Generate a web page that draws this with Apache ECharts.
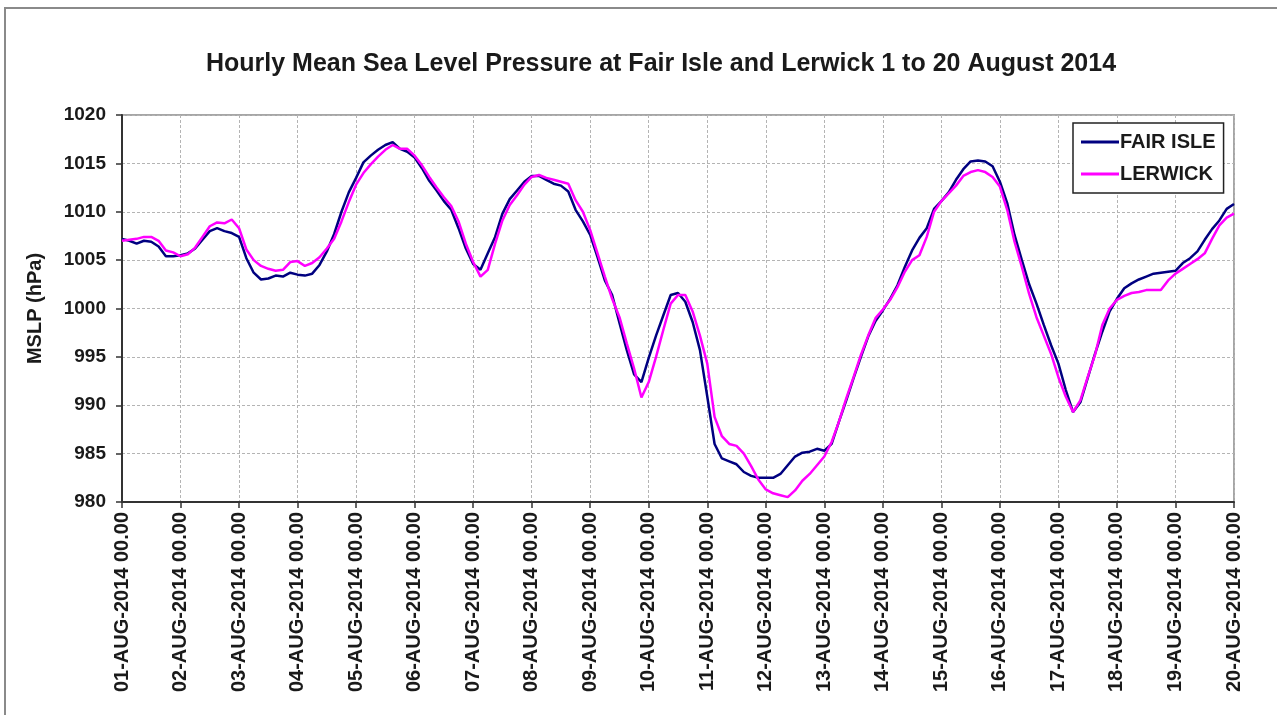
<!DOCTYPE html>
<html>
<head>
<meta charset="utf-8">
<script src="https://cdn.jsdelivr.net/npm/echarts@6/dist/echarts.min.js"></script>
<style>
  html, body { margin: 0; padding: 0; background: #ffffff; }
  #chart { width: 1277px; height: 715px; }
</style>
</head>
<body>
<div id="chart"></div>
<script>
// Tick labels for the x axis (one per day, 00.00)
const dayLabels = [
  '01-AUG-2014 00.00','02-AUG-2014 00.00','03-AUG-2014 00.00','04-AUG-2014 00.00',
  '05-AUG-2014 00.00','06-AUG-2014 00.00','07-AUG-2014 00.00','08-AUG-2014 00.00',
  '09-AUG-2014 00.00','10-AUG-2014 00.00','11-AUG-2014 00.00','12-AUG-2014 00.00',
  '13-AUG-2014 00.00','14-AUG-2014 00.00','15-AUG-2014 00.00','16-AUG-2014 00.00',
  '17-AUG-2014 00.00','18-AUG-2014 00.00','19-AUG-2014 00.00','20-AUG-2014 00.00'
];

// MSLP (hPa) read every 3 hours from 01-AUG-2014 00.00 to 20-AUG-2014 00.00
const fairIsle = [
  1007.2,1007.0,1006.7,1007.0,1006.9,1006.4,1005.4,1005.4,
  1005.5,1005.7,1006.2,1007.1,1008.0,1008.3,1008.0,1007.8,
  1007.4,1005.2,1003.7,1003.0,1003.1,1003.4,1003.3,1003.7,
  1003.5,1003.4,1003.6,1004.5,1005.9,1007.7,1010.0,1012.0,
  1013.5,1015.1,1015.8,1016.4,1016.9,1017.2,1016.5,1016.2,
  1015.6,1014.5,1013.2,1012.2,1011.1,1010.2,1008.3,1006.2,
  1004.6,1004.0,1005.7,1007.4,1009.8,1011.3,1012.2,1013.1,
  1013.7,1013.7,1013.3,1012.9,1012.7,1012.1,1010.2,1009.0,
  1007.6,1005.3,1002.9,1001.4,998.5,995.7,993.2,992.4,
  994.9,997.2,999.3,1001.4,1001.6,1000.7,998.6,995.7,
  990.9,986.0,984.5,984.2,983.9,983.1,982.7,982.5,
  982.5,982.5,982.9,983.8,984.7,985.1,985.2,985.5,
  985.3,986.0,988.3,990.5,992.8,995.0,997.1,998.7,
  999.8,1001.0,1002.4,1004.3,1006.0,1007.3,1008.3,1010.3,
  1011.1,1012.0,1013.3,1014.4,1015.2,1015.3,1015.2,1014.7,
  1013.1,1010.9,1007.6,1005.0,1002.5,1000.5,998.3,996.2,
  994.3,991.6,989.3,990.3,992.8,995.3,997.6,999.7,
  1001.0,1002.1,1002.6,1003.0,1003.3,1003.6,1003.7,1003.8,
  1003.9,1004.7,1005.2,1005.9,1007.1,1008.2,1009.1,1010.3,
  1010.8
];

const lerwick = [
  1007.0,1007.1,1007.2,1007.4,1007.4,1007.0,1006.0,1005.8,
  1005.4,1005.6,1006.3,1007.4,1008.5,1008.9,1008.8,1009.2,
  1008.3,1006.1,1005.0,1004.4,1004.1,1003.9,1004.0,1004.8,
  1004.9,1004.4,1004.7,1005.3,1006.2,1007.2,1009.0,1011.0,
  1012.8,1014.0,1014.9,1015.7,1016.4,1016.9,1016.5,1016.5,
  1015.8,1014.8,1013.6,1012.5,1011.5,1010.6,1009.0,1006.7,
  1004.8,1003.3,1004.0,1006.7,1009.1,1010.7,1011.7,1012.8,
  1013.6,1013.8,1013.5,1013.3,1013.1,1012.9,1011.2,1010.0,
  1008.1,1005.7,1003.3,1001.0,999.1,996.4,993.8,990.8,
  992.4,995.0,997.8,1000.5,1001.4,1001.4,999.7,997.2,
  994.3,988.8,986.8,986.0,985.8,985.0,983.7,982.3,
  981.3,980.9,980.7,980.5,981.2,982.2,982.9,983.8,
  984.7,986.2,988.3,990.7,992.9,995.2,997.2,999.0,
  999.9,1000.9,1002.2,1003.8,1005.0,1005.5,1007.4,1010.0,
  1011.1,1011.9,1012.7,1013.7,1014.1,1014.3,1014.1,1013.6,
  1012.6,1010.2,1006.9,1004.3,1001.5,999.1,997.2,995.3,
  992.9,990.9,989.3,990.5,992.9,995.2,998.3,1000.0,
  1000.9,1001.3,1001.6,1001.7,1001.9,1001.9,1001.9,1002.9,
  1003.6,1004.1,1004.6,1005.1,1005.7,1007.2,1008.6,1009.4,
  1009.8
];

const stepHours = 3;
const hours = fairIsle.map((_, i) => i * stepHours);

const chart = echarts.init(document.getElementById('chart'), null, { renderer: 'canvas' });

const FONT = 'Liberation Sans, Arial, sans-serif';

chart.setOption({
  backgroundColor: '#ffffff',
  animation: false,
  title: {
    text: 'Hourly Mean Sea Level Pressure at Fair Isle and Lerwick 1 to 20 August 2014',
    left: 656,
    textAlign: 'center',
    top: 47,
    textStyle: { fontFamily: FONT, fontSize: 25, fontWeight: 'bold', color: '#1a1a1a' }
  },
  graphic: [
    {
      type: 'rect',
      shape: { x: 5, y: 8, width: 1290, height: 730 },
      style: { fill: null, stroke: '#8a8a8a', lineWidth: 2 },
      silent: true,
      z: 0
    }
  ],
  legend: {
    orient: 'vertical',
    left: 1073,
    top: 123,
    width: 157,
    padding: [9, 8, 9, 8],
    itemGap: 12,
    itemWidth: 38,
    itemHeight: 3,
    icon: 'rect',
    borderColor: '#222',
    borderWidth: 1.5,
    backgroundColor: '#ffffff',
    textStyle: { fontFamily: FONT, fontSize: 20, fontWeight: 'bold', color: '#1a1a1a', padding: [0, 0, 0, -4] },
    data: ['FAIR ISLE', 'LERWICK']
  },
  grid: {
    left: 122,
    top: 115,
    width: 1112,
    height: 387,
    show: true,
    borderColor: '#a6a6a6',
    borderWidth: 2,
    backgroundColor: 'transparent'
  },
  xAxis: {
    type: 'value',
    min: 0,
    max: 456,
    interval: 24,
    axisLine: { show: true, onZero: false, lineStyle: { color: '#333', width: 2 } },
    axisTick: { show: true, length: 6, lineStyle: { color: '#333', width: 1.5 } },
    splitLine: { show: true, lineStyle: { color: '#b4b4b4', width: 1, type: [3, 2] } },
    axisLabel: {
      rotate: 90,
      margin: 10,
      fontFamily: FONT,
      fontSize: 20,
      fontWeight: 'bold',
      color: '#1a1a1a',
      formatter: function (v) { return dayLabels[Math.round(v / 24)] || ''; }
    }
  },
  yAxis: {
    type: 'value',
    min: 980,
    max: 1020,
    interval: 5,
    name: 'MSLP (hPa)',
    nameLocation: 'middle',
    nameGap: 77,
    nameRotate: 90,
    nameTextStyle: { fontFamily: FONT, fontSize: 20, fontWeight: 'bold', color: '#1a1a1a' },
    axisLine: { show: true, lineStyle: { color: '#333', width: 2 } },
    axisTick: { show: true, length: 6, lineStyle: { color: '#333', width: 1.5 } },
    splitLine: { show: true, lineStyle: { color: '#b4b4b4', width: 1, type: [3, 2] } },
    axisLabel: {
      margin: 16,
      fontFamily: FONT,
      fontSize: 19,
      fontWeight: 'bold',
      color: '#1a1a1a',
      formatter: function (v) { return String(v); }
    }
  },
  series: [
    {
      name: 'FAIR ISLE',
      type: 'line',
      data: hours.map((h, i) => [h, fairIsle[i]]),
      showSymbol: false,
      symbol: 'none',
      lineStyle: { color: '#000080', width: 2.5 },
      itemStyle: { color: '#000080' },
      z: 2
    },
    {
      name: 'LERWICK',
      type: 'line',
      data: hours.map((h, i) => [h, lerwick[i]]),
      showSymbol: false,
      symbol: 'none',
      lineStyle: { color: '#ff00ff', width: 2.5 },
      itemStyle: { color: '#ff00ff' },
      z: 3
    }
  ]
});
</script>
</body>
</html>
